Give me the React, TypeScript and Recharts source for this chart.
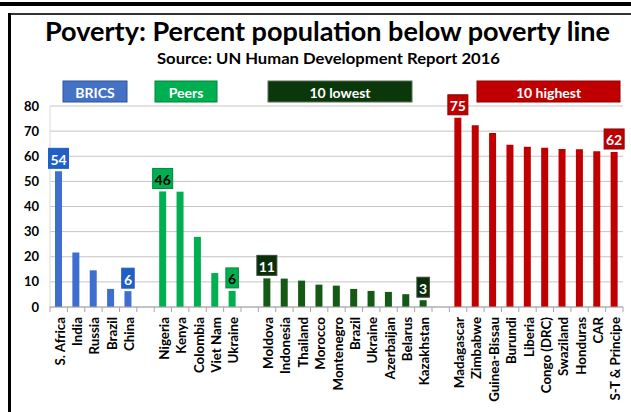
import React from "react";
import { BarChart, Bar, XAxis, YAxis, CartesianGrid, LabelList, Cell } from "recharts";

const bricsNames = ["S. Africa", "India", "Russia", "Brazil", "China"];
const bricsValues = [54, 21.7, 14.6, 7.2, 6.3];
const peersNames = ["Nigeria", "Kenya", "Colombia", "Viet Nam", "Ukraine"];
const peersValues = [46, 45.9, 27.9, 13.5, 6.4];
const lowestNames = ["Moldova", "Indonesia", "Thailand", "Morocco", "Montenegro", "Brazil", "Ukraine", "Azerbaijan", "Belarus", "Kazakhstan"];
const lowestValues = [11.4, 11.3, 10.5, 8.9, 8.5, 7.2, 6.4, 6.0, 5.1, 2.7];
const highestNames = ["Madagascar", "Zimbabwe", "Guinea-Bissau", "Burundi", "Liberia", "Congo (DRC)", "Swaziland", "Honduras", "CAR", "S-T & Principe"];
const highestValues = [75.3, 72.3, 69.3, 64.6, 63.8, 63.4, 62.9, 62.8, 62.0, 61.7];
const labeledNames = ["S. Africa", "China", "Nigeria", "Ukraine", "Moldova", "Kazakhstan", "Madagascar", "S-T & Principe"];
const yTicks = [0, 10, 20, 30, 40, 50, 60, 70, 80];

const FONT = "Lato, 'Open Sans', sans-serif";

const groups = [
  { title: "BRICS", names: bricsNames, values: bricsValues, color: "#3E6FCF", labelFill: "#1F5FC6", labelStroke: "#1F5FC6", labelText: "#fff", headFill: "#4472C4", headStroke: "#2F5597", head: { x: 63, w: 64 } },
  { title: "Peers", names: peersNames, values: peersValues, color: "#00B050", labelFill: "#00B050", labelStroke: "#00843D", labelText: "#000", headFill: "#00B050", headStroke: "#00843D", head: { x: 155, w: 62 } },
  { title: "10 lowest", names: lowestNames, values: lowestValues, color: "#145A14", labelFill: "#0A2E0A", labelStroke: "#3a4a3a", labelText: "#fff", headFill: "#0B380B", headStroke: "#5a6a5a", head: { x: 268, w: 144 } },
  { title: "10 highest", names: highestNames, values: highestValues, color: "#C00000", labelFill: "#C00000", labelStroke: "#8B0000", labelText: "#fff", headFill: "#C00000", headStroke: "#8B0000", head: { x: 477, w: 143 } },
];

type Row = { id: string; name: string; value: number | null; group: number; labeled: boolean };
const rows: Row[] = [];
groups.forEach((g, gi) => {
  g.names.forEach((n, i) => {
    rows.push({ id: `${gi}-${i}`, name: n, value: g.values[i], group: gi, labeled: (i === 0 || i === g.names.length - 1) && labeledNames.includes(n) });
  });
  if (gi < groups.length - 1) rows.push({ id: `gap-${gi}`, name: "", value: null, group: -1, labeled: false });
});
const rowById: Record<string, Row> = {};
rows.forEach((r) => { rowById[r.id] = r; });

const TICK_SIZE = 5;
const TICK_MARGIN = 5;

const CategoryTick = (props: any) => {
  const { x, y, payload, index } = props;
  const idx = payload && payload.index !== undefined ? payload.index : index;
  const row = rows[idx];
  const off = payload && payload.offset ? payload.offset : 0;
  const axisY = y - TICK_SIZE - TICK_MARGIN;
  const isLast = idx === rows.length - 1;
  return (
    <g>
      <line x1={x - off} x2={x - off} y1={axisY} y2={axisY + TICK_SIZE} stroke="#a6a6a6" />
      {isLast && <line x1={x + off} x2={x + off} y1={axisY} y2={axisY + TICK_SIZE} stroke="#a6a6a6" />}
      <text
        transform={`rotate(-90 ${x + 1} ${y})`}
        x={x + 1}
        y={y}
        textAnchor="end"
        dominantBaseline="central"
        fontSize={13.3}
        fontWeight={700}
        fontFamily={FONT}
        fill="#000"
      >
        {row ? row.name : ""}
      </text>
    </g>
  );
};

const ValueLabel = (props: any) => {
  const { x, y, width, value } = props;
  const row = rowById[String(value)];
  if (!row || !row.labeled || row.value == null) return null;
  const g = groups[row.group];
  const text = String(Math.round(row.value));
  const w = text.length * 7.5 + 5;
  const h = 20;
  const cx = Number(x) + Number(width) / 2;
  const top = Number(y) - 3 - h;
  return (
    <g>
      <rect x={cx - w / 2} y={top} width={w} height={h} fill={g.labelFill} stroke={g.labelStroke} strokeWidth={1} />
      <text x={cx} y={top + h / 2 + 1} textAnchor="middle" dominantBaseline="central" fill={g.labelText} fontSize={14} fontWeight={700} fontFamily={FONT}>
        {text}
      </text>
    </g>
  );
};

export default function App() {
  return (
    <div style={{ position: "absolute", left: 0, top: 0, width: 631, height: 412, background: "#fff", overflow: "hidden" }}>
      <div style={{ position: "absolute", left: 0, top: 0 }}>
        <BarChart width={631} height={412} data={rows} margin={{ top: 106, right: 8, bottom: 0, left: 10 }} barSize={7}>
          <CartesianGrid vertical={false} stroke="#c4c4c4" />
          <YAxis
            domain={[0, 80]}
            ticks={yTicks}
            width={40}
            tickLine={false}
            tickSize={0}
            tickMargin={11}
            axisLine={{ stroke: "#d9d9d9" }}
            tick={{ fontSize: 13, fontWeight: 700, fill: "#000", fontFamily: FONT }}
            interval={0}
          />
          <XAxis
            dataKey="id"
            height={105}
            interval={0}
            tickLine={false}
            tickSize={TICK_SIZE}
            tickMargin={TICK_MARGIN}
            axisLine={{ stroke: "#a6a6a6" }}
            tick={<CategoryTick />}
          />
          <Bar dataKey="value" isAnimationActive={false}>
            {rows.map((r) => (
              <Cell key={r.id} fill={r.group >= 0 ? groups[r.group].color : "none"} />
            ))}
            <LabelList dataKey="id" content={<ValueLabel />} />
          </Bar>
        </BarChart>
      </div>
      <svg width={631} height={412} style={{ position: "absolute", left: 0, top: 0, pointerEvents: "none" }}>
        <rect x={0} y={2} width={631} height={4} fill="#000" />
        <rect x={8} y={13} width={623} height={2} fill="#333" />
        <rect x={8} y={13} width={3} height={399} fill="#000" />
        <text x={327.5} y={41} textAnchor="middle" fontSize={27} fontWeight={700} fontFamily={FONT} fill="#000" textLength={565} lengthAdjust="spacingAndGlyphs">
          Poverty: Percent population below poverty line
        </text>
        <text x={328.5} y={64} textAnchor="middle" fontSize={15} fontWeight={700} fontFamily={FONT} fill="#000" textLength={343} lengthAdjust="spacingAndGlyphs">
          Source: UN Human Development Report 2016
        </text>
        {groups.map((g) => (
          <g key={g.title}>
            <rect x={g.head.x} y={81} width={g.head.w} height={21} fill={g.headFill} stroke={g.headStroke} strokeWidth={1} />
            <text x={g.head.x + g.head.w / 2} y={92} textAnchor="middle" dominantBaseline="central" fill="#fff" fontSize={14} fontWeight={700} fontFamily={FONT}>
              {g.title}
            </text>
          </g>
        ))}
      </svg>
    </div>
  );
}
